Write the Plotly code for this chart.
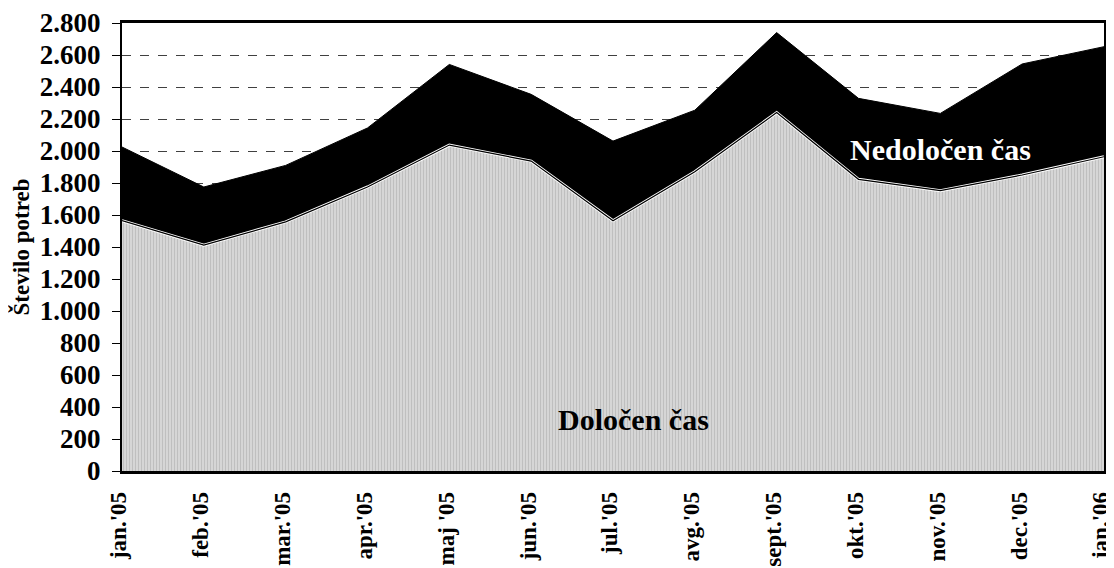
import plotly.graph_objects as go

months = ["jan.'05", "feb.'05", "mar.'05", "apr.'05", "maj '05", "jun.'05", "jul.'05",
          "avg.'05", "sept.'05", "okt.'05", "nov.'05", "dec.'05", "jan.'06"]
dolocen = [1565, 1412, 1557, 1775, 2037, 1937, 1564, 1870, 2240, 1823, 1752, 1850, 1964]
nedolocen = [460, 363, 353, 369, 504, 417, 498, 385, 500, 506, 483, 694, 688]
y_ticks = [0, 200, 400, 600, 800, 1000, 1200, 1400, 1600, 1800, 2000, 2200, 2400, 2600, 2800]

FONT = "Liberation Serif, Times New Roman, serif"
xs = list(range(len(months)))

fig = go.Figure()
fig.add_trace(go.Scatter(
    x=xs, y=dolocen, name="Določen čas", stackgroup="one",
    mode="lines", line=dict(color="white", width=3),
    fillcolor="#cfcfcf",
    fillpattern=dict(shape="|", size=3, solidity=0.35, fgcolor="#a8a8a8", bgcolor="#d6d6d6"),
))
fig.add_trace(go.Scatter(
    x=xs, y=nedolocen, name="Nedoločen čas", stackgroup="one",
    mode="lines", line=dict(color="black", width=1),
    fillcolor="black",
))
# boundary line between the two areas
fig.add_trace(go.Scatter(
    x=xs, y=dolocen, mode="lines", line=dict(color="black", width=1.2),
    hoverinfo="skip", showlegend=False,
))

fig.add_annotation(x=6.25, y=325, text="Določen čas", showarrow=False,
                   font=dict(family=FONT, size=30, color="black", weight="bold"))
fig.add_annotation(x=10.0, y=2010, text="Nedoločen čas", showarrow=False,
                   font=dict(family=FONT, size=30, color="white", weight="bold"))

fig.update_layout(
    width=1106, height=560,
    margin=dict(l=114, r=10, t=15, b=97),
    paper_bgcolor="white", plot_bgcolor="white",
    showlegend=False,
    separators=",.",
    font=dict(family=FONT, color="black"),
)
fig.update_xaxes(
    range=[0, 12], tickvals=xs, ticktext=months, tickangle=-90,
    tickfont=dict(family=FONT, size=23, color="black", weight="bold"),
    ticklabelstandoff=9, ticklabelshift=-3, automargin=False, ticklabeloverflow="allow",
    showgrid=False, showline=True, linecolor="black", linewidth=2.5, mirror=True,
    ticks="", zeroline=False,
)
fig.update_yaxes(
    range=[0, 2800], tickvals=y_ticks, tickformat=",d",
    tickfont=dict(family=FONT, size=27, color="black", weight="bold"),
    ticklabelstandoff=6, automargin=False, ticklabeloverflow="allow",
    title=dict(text="Število potreb", font=dict(family=FONT, size=23, color="black", weight="bold"), standoff=4),
    showgrid=True, gridcolor="#404040", griddash="dash", gridwidth=1,
    showline=True, linecolor="black", linewidth=2, mirror=True,
    ticks="outside", ticklen=8, tickcolor="black", zeroline=False,
)

fig.write_html("out.html")
